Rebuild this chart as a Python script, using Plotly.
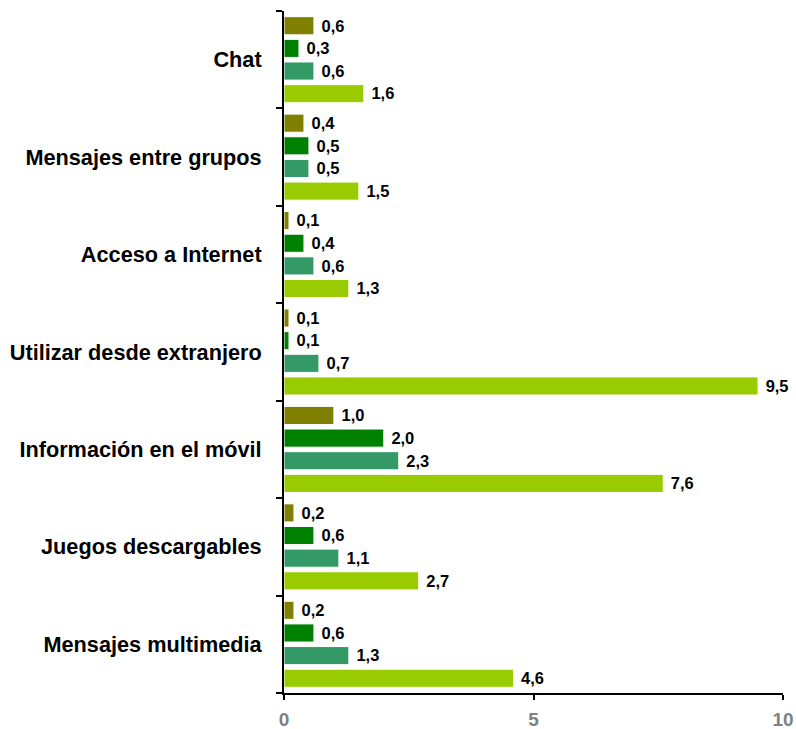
import plotly.graph_objects as go

categories = ["Chat", "Mensajes entre grupos", "Acceso a Internet", "Utilizar desde extranjero",
              "Información en el móvil", "Juegos descargables", "Mensajes multimedia"]
s_olive = [0.6, 0.4, 0.1, 0.1, 1.0, 0.2, 0.2]
s_green = [0.3, 0.5, 0.4, 0.1, 2.0, 0.6, 0.6]
s_teal = [0.6, 0.5, 0.6, 0.7, 2.3, 1.1, 1.3]
s_lime = [1.6, 1.5, 1.3, 9.5, 7.6, 2.7, 4.6]
x_ticks = [0, 5, 10]

cats_bt = categories[::-1]
series = [("lime", s_lime, "#99cc00"), ("teal", s_teal, "#339966"),
          ("green", s_green, "#008000"), ("olive", s_olive, "#808000")]

FONT = "Liberation Sans, Arial, sans-serif"
fig = go.Figure()
for name, vals, col in series:
    v = vals[::-1]
    fig.add_trace(go.Bar(
        y=cats_bt, x=v, orientation="h", name=name,
        marker=dict(color=col, line=dict(color="white", width=1)),
        text=["\u00a0" + f"{x:.1f}".replace(".", ",") for x in v],
        textposition="outside", cliponaxis=False,
        textfont=dict(family=FONT, size=20, color="black", weight="bold"),
    ))

fig.update_layout(
    width=796, height=729, barmode="group", bargap=0.07, bargroupgap=0.2,
    showlegend=False, plot_bgcolor="white", paper_bgcolor="white",
    margin=dict(l=284, r=13, t=11, b=36),
    font=dict(family=FONT),
)
fig.update_xaxes(range=[0, 10], tickvals=x_ticks, ticktext=[str(t) for t in x_ticks],
                 showgrid=False, zeroline=False, showline=True, linecolor="black", linewidth=2,
                 ticks="outside", ticklen=5, tickcolor="black", tickwidth=2, automargin=False,
                 ticklabelstandoff=3,
                 tickfont=dict(family=FONT, size=19, color="#808080", weight="bold"))
fig.update_yaxes(showgrid=False, showline=True, linecolor="black", linewidth=2, automargin=False,
                 ticks="outside", tickson="boundaries", ticklen=6, tickcolor="black", tickwidth=2,
                 ticklabelstandoff=16,
                 tickfont=dict(family=FONT, size=21.7, color="black", weight="bold"))

fig.write_html("out.html", post_script="document.body.style.margin='0';",
               config={"displayModeBar": False})
